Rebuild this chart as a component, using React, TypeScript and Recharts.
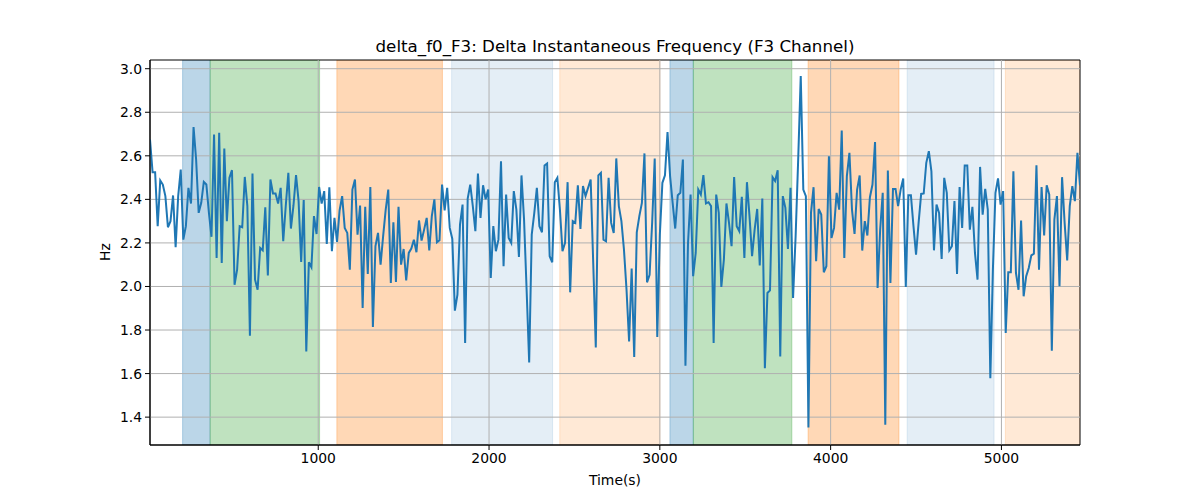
import { LineChart, Line, XAxis, YAxis, ReferenceArea, ReferenceLine } from 'recharts'

// sampling of the F3 channel: first sample time and step, in seconds
const T0 = 15
const DT = 15

const freqHz = [
  2.675, 2.525, 2.525, 2.277, 2.487, 2.468, 2.415, 2.272, 2.3, 2.418,
  2.18, 2.415, 2.537, 2.215, 2.277, 2.453, 2.381, 2.732, 2.583, 2.338,
  2.384, 2.48, 2.468, 2.338, 2.228, 2.698, 2.131, 2.706, 2.108, 2.634,
  2.3, 2.499, 2.534, 2.008, 2.077, 2.277, 2.272, 2.503, 2.369, 1.774,
  2.519, 2.031, 1.985, 2.177, 2.166, 2.364, 2.051, 2.491, 2.427, 2.427,
  2.381, 2.453, 2.208, 2.372, 2.522, 2.266, 2.372, 2.511, 2.392, 2.113,
  2.397, 1.702, 2.111, 2.088, 2.323, 2.241, 2.457, 2.381, 2.438, 2.195,
  2.456, 2.162, 2.315, 2.205, 2.349, 2.415, 2.269, 2.246, 2.077, 2.445,
  2.491, 2.238, 2.372, 1.901, 2.366, 2.057, 2.457, 1.814, 2.185, 2.246,
  2.1, 2.231, 2.353, 2.445, 2.016, 2.295, 2.021, 2.366, 2.1, 2.172,
  2.028, 2.154, 2.174, 2.215, 2.157, 2.303, 2.211, 2.261, 2.315, 2.166,
  2.323, 2.4, 2.203, 2.212, 2.468, 2.349, 2.453, 2.269, 2.218, 1.889,
  1.962, 2.284, 2.376, 1.74, 2.404, 2.468, 2.369, 2.254, 2.519, 2.315,
  2.465, 2.4, 2.445, 2.039, 2.277, 2.162, 2.215, 2.575, 2.093, 2.422,
  2.223, 2.2, 2.438, 2.353, 2.136, 2.51, 2.307, 1.985, 1.651, 2.238,
  2.338, 2.453, 2.277, 2.249, 2.556, 2.565, 2.139, 2.111, 2.479, 2.499,
  2.353, 2.162, 2.2, 2.479, 1.973, 2.3, 2.292, 2.464, 2.264, 2.461,
  2.415, 2.453, 2.491, 2.108, 1.72, 2.51, 2.522, 2.215, 2.208, 2.499,
  2.292, 2.246, 2.588, 2.369, 2.3, 2.169, 1.985, 1.748, 2.082, 1.676,
  2.249, 2.323, 2.384, 2.611, 2.019, 2.054, 2.292, 2.588, 1.768, 2.238,
  2.476, 2.51, 2.709, 2.507, 2.384, 2.266, 2.419, 2.43, 2.583, 1.636,
  2.2, 2.422, 2.047, 2.154, 2.445, 2.422, 2.511, 2.381, 2.387, 2.369,
  1.74, 2.422, 2.338, 1.998, 2.123, 2.381, 2.292, 2.185, 2.502, 2.277,
  2.254, 2.412, 2.131, 2.479, 2.323, 2.139, 2.261, 2.356, 2.096, 2.404,
  1.625, 1.97, 1.982, 2.502, 2.484, 2.534, 1.679, 2.415, 2.361, 2.172,
  2.453, 1.947, 2.231, 2.583, 2.966, 2.445, 2.415, 1.352, 2.338, 2.456,
  2.116, 2.356, 2.33, 2.065, 2.093, 2.598, 2.223, 2.269, 2.43,
  2.353, 2.716, 2.131, 2.507, 2.614, 2.353, 2.241, 2.445, 2.51, 2.165,
  2.3, 2.234, 2.41, 2.468, 2.663, 1.993, 2.261, 2.43, 1.365, 2.533,
  2.016, 2.448, 2.448, 2.369, 2.445, 2.496, 1.998, 2.419, 2.419, 2.277,
  2.146, 2.292, 2.425, 2.427, 2.568, 2.621, 2.529, 2.166, 2.376, 2.338,
  2.126, 2.499, 2.43, 2.166, 2.185, 2.392, 2.057, 2.457, 2.269, 2.556,
  2.556, 2.261, 2.366, 2.154, 2.031, 2.549, 2.33, 2.448, 2.353, 1.579,
  2.077, 2.43, 2.496, 2.376, 2.438, 1.786, 2.065, 2.065, 2.529, 2.062,
  1.985, 2.303, 1.955, 2.047, 2.085, 2.143, 2.151, 2.557, 2.077, 2.457,
  2.234, 2.465, 2.422, 1.705, 2.307, 2.415, 2.001, 2.502, 2.292, 2.12,
  2.369, 2.461, 2.392, 2.614, 2.464,
]

const xTicks = [1000, 2000, 3000, 4000, 5000]
const yTicks = [1.4, 1.6, 1.8, 2.0, 2.2, 2.4, 2.6, 2.8, 3.0]

// highlighted segments (seconds) and what kind of segment each one is
const spanStart = [206, 367, 1109, 1781, 2414, 3059, 3196, 3868, 4448, 5023]
const spanEnd = [367, 1008, 1727, 2372, 3001, 3196, 3773, 4400, 4957, 5460]
const spanKind = ['blue', 'green', 'orange', 'paleBlue', 'paleOrange', 'blue', 'green', 'orange', 'paleBlue', 'paleOrange']

const SPAN_STYLE: Record<string, { color: string; opacity: number }> = {
  blue: { color: '#1f77b4', opacity: 0.3 },
  green: { color: '#2ca02c', opacity: 0.3 },
  orange: { color: '#ff7f0e', opacity: 0.3 },
  paleBlue: { color: '#1f77b4', opacity: 0.12 },
  paleOrange: { color: '#ff7f0e', opacity: 0.17 },
}

const X_MIN = 15
const X_MAX = 5460
const Y_MIN = 1.272
const Y_MAX = 3.04

const data = freqHz.map((v, i) => ({ t: T0 + i * DT, hz: v }))

const font = '"DejaVu Sans", sans-serif'
const tickStyle = { fill: '#000', fontSize: 13.9, fontFamily: font }
const GRID = '#b0b0b0'

export default function App() {
  return (
    <div style={{ position: 'absolute', left: 0, top: 0, width: 1200, height: 500, background: '#fff' }}>
      <div
        style={{
          position: 'absolute', left: 150, width: 930, top: 36, textAlign: 'center',
          fontFamily: font, fontSize: 16.7, color: '#000', lineHeight: '20px',
        }}
      >
        delta_f0_F3: Delta Instantaneous Frequency (F3 Channel)
      </div>
      <div
        style={{
          position: 'absolute', left: 150, width: 930, top: 472, textAlign: 'center',
          fontFamily: font, fontSize: 13.9, color: '#000', lineHeight: '17px',
        }}
      >
        Time(s)
      </div>
      <div
        style={{
          position: 'absolute', left: 105, top: 252, transform: 'translate(-50%, -50%) rotate(-90deg)',
          fontFamily: font, fontSize: 13.9, color: '#000', lineHeight: '17px',
        }}
      >
        Hz
      </div>
      <LineChart width={1200} height={500} data={data} margin={{ top: 60, right: 120, bottom: 25, left: 90 }}>
        {spanStart.map((s, i) => {
          const st = SPAN_STYLE[spanKind[i]]
          return (
            <ReferenceArea
              key={i}
              x1={s}
              x2={spanEnd[i]}
              y1={Y_MIN}
              y2={Y_MAX}
              fill={st.color}
              fillOpacity={st.opacity}
              stroke={st.color}
              strokeOpacity={st.opacity}
              ifOverflow="hidden"
            />
          )
        })}
        <XAxis
          type="number"
          dataKey="t"
          domain={[X_MIN, X_MAX]}
          ticks={xTicks}
          allowDataOverflow
          height={30}
          tick={tickStyle}
          tickSize={5}
          tickMargin={3}
          axisLine={{ stroke: '#000' }}
          tickLine={{ stroke: '#000' }}
        />
        <YAxis
          type="number"
          domain={[Y_MIN, Y_MAX]}
          ticks={yTicks}
          allowDataOverflow
          width={60}
          tick={tickStyle}
          tickFormatter={(v: number) => v.toFixed(1)}
          tickSize={5}
          tickMargin={3}
          axisLine={{ stroke: '#000' }}
          tickLine={{ stroke: '#000' }}
        />
        {xTicks.map((t) => (
          <ReferenceLine key={`gx${t}`} x={t} stroke={GRID} strokeWidth={1} />
        ))}
        {yTicks.map((t) => (
          <ReferenceLine key={`gy${t}`} y={t} stroke={GRID} strokeWidth={1} />
        ))}
        <ReferenceArea x1={X_MIN} x2={X_MAX} y1={Y_MIN} y2={Y_MAX} fill="none" stroke="#000" strokeWidth={1} />
        <Line
          type="linear"
          dataKey="hz"
          stroke="#1f77b4"
          strokeWidth={2}
          dot={false}
          isAnimationActive={false}
        />
      </LineChart>
    </div>
  )
}
